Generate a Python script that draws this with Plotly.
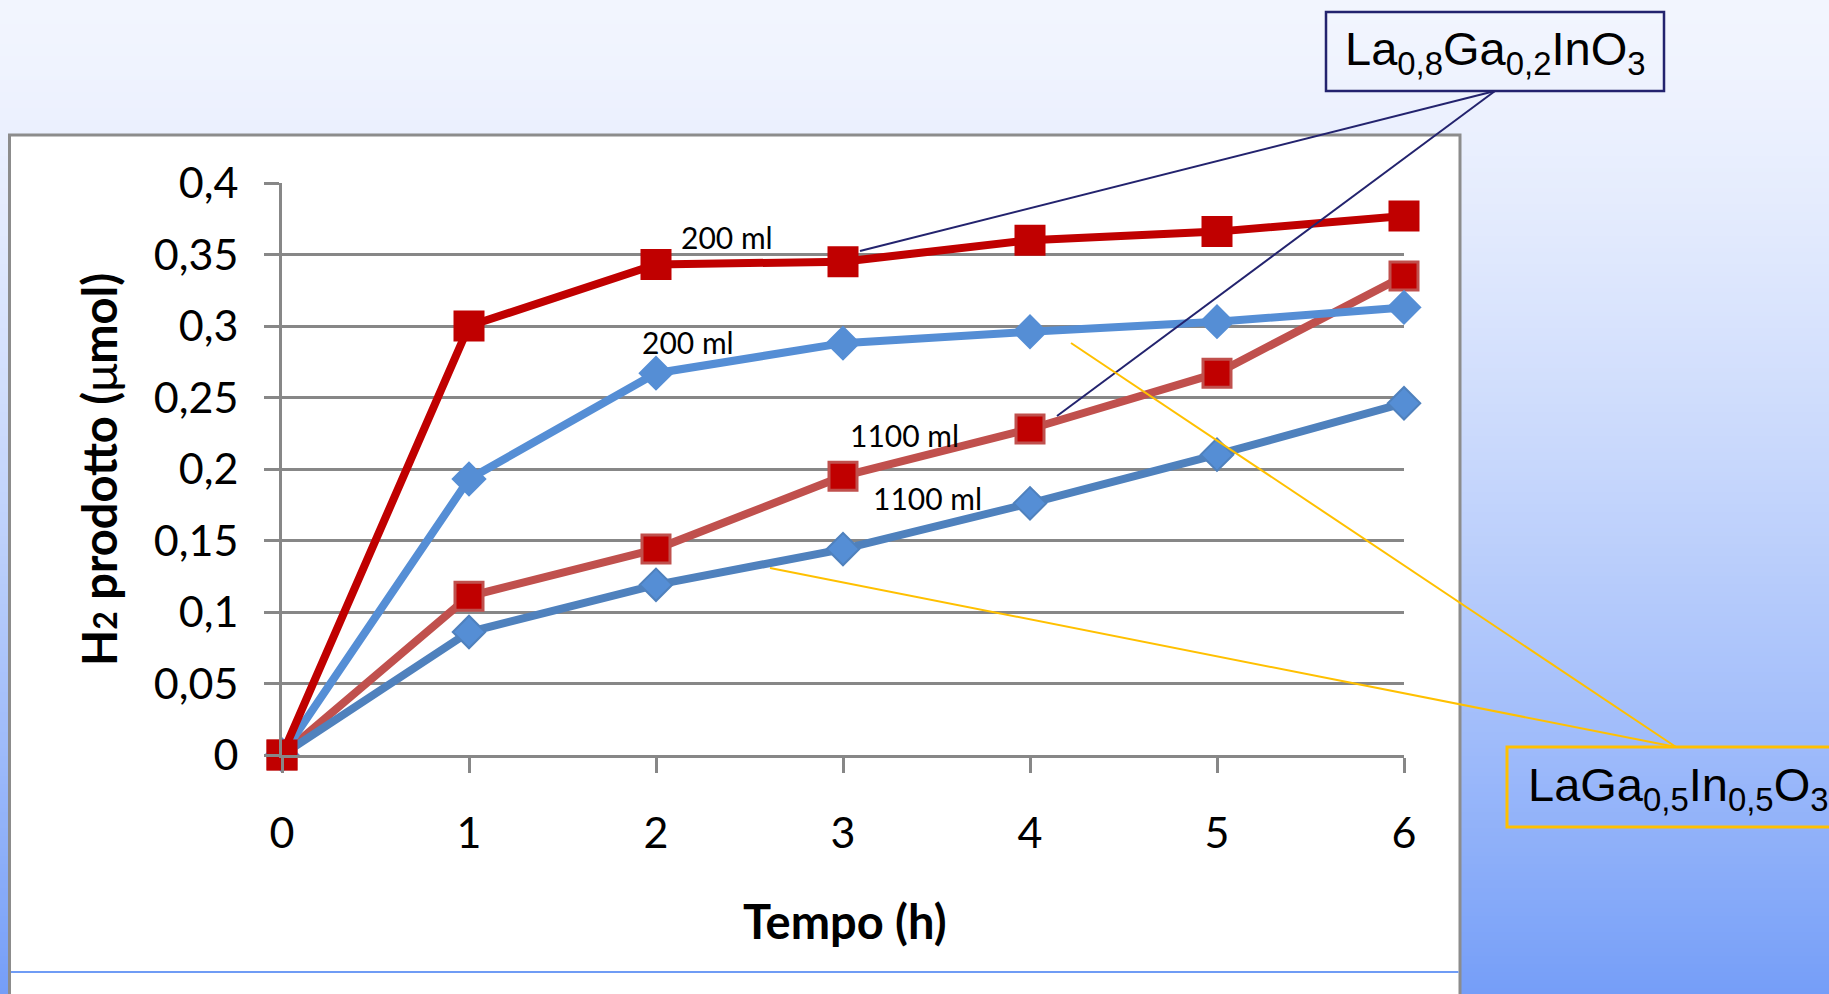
import plotly.graph_objects as go

# ---------------- data ----------------
tempo_h = [0, 1, 2, 3, 4, 5, 6]
la08_200ml = [0, 0.300, 0.343, 0.345, 0.360, 0.366, 0.377]
la08_1100ml = [0, 0.111, 0.144, 0.195, 0.228, 0.267, 0.335]
laga05_200ml = [0, 0.193, 0.267, 0.288, 0.296, 0.303, 0.313]
laga05_1100ml = [0, 0.086, 0.119, 0.144, 0.176, 0.210, 0.246]

y_tickvals = [0, 0.05, 0.1, 0.15, 0.2, 0.25, 0.3, 0.35, 0.4]
y_ticktext = ["0", "0,05", "0,1", "0,15", "0,2", "0,25", "0,3", "0,35", "0,4"]
x_tickvals = [0, 1, 2, 3, 4, 5, 6]
x_ticktext = ["0", "1", "2", "3", "4", "5", "6"]

series_labels = ["200 ml", "200 ml", "1100 ml", "1100 ml"]
label_x = [2.38, 2.17, 3.33, 3.45]
label_y = [0.362, 0.289, 0.224, 0.180]

W, H = 1829, 994


def px(x):
    return x / W


def py(y):
    return 1 - y / H


fig = go.Figure()

fig.add_trace(go.Scatter(
    x=tempo_h, y=la08_1100ml, mode="lines+markers", name="La0,8Ga0,2InO3 1100 ml",
    line=dict(color="#C0504D", width=8),
    marker=dict(symbol="square", size=28, color="#C00000",
                line=dict(color="#C0504D", width=3)),
    cliponaxis=False))
fig.add_trace(go.Scatter(
    x=tempo_h, y=laga05_1100ml, mode="lines+markers", name="LaGa0,5In0,5O3 1100 ml",
    line=dict(color="#4F81BD", width=8),
    marker=dict(symbol="diamond", size=25, color="#558ED5",
                line=dict(color="#4F81BD", width=2)),
    cliponaxis=False))
fig.add_trace(go.Scatter(
    x=tempo_h, y=laga05_200ml, mode="lines+markers", name="LaGa0,5In0,5O3 200 ml",
    line=dict(color="#558ED5", width=8),
    marker=dict(symbol="diamond", size=25, color="#558ED5",
                line=dict(color="#558ED5", width=2)),
    cliponaxis=False))
fig.add_trace(go.Scatter(
    x=tempo_h, y=la08_200ml, mode="lines+markers", name="La0,8Ga0,2InO3 200 ml",
    line=dict(color="#C00000", width=8),
    marker=dict(symbol="square", size=29, color="#C00000",
                line=dict(color="#C00000", width=2)),
    cliponaxis=False))

# ---------------- background gradient + white frame ----------------
shapes = []
top = (242, 245, 254)
bot = (117, 158, 248)
step = 4
for y0 in range(0, H, step):
    t = ((y0 + step / 2) / H) ** 1.4
    c = tuple(round(top[i] + (bot[i] - top[i]) * t) for i in range(3))
    shapes.append(dict(type="rect", xref="paper", yref="paper",
                       x0=0, x1=1, y0=py(y0 + step + 0.5), y1=py(y0),
                       fillcolor="rgb(%d,%d,%d)" % c, line=dict(width=0),
                       layer="below"))
shapes.append(dict(type="rect", xref="paper", yref="paper",
                   x0=px(9.5), x1=px(1460), y0=py(1010), y1=py(135),
                   fillcolor="white", line=dict(color="#8C8C8C", width=3),
                   layer="below"))
shapes.append(dict(type="line", xref="paper", yref="paper",
                   x0=px(11), x1=px(1458.5), y0=py(972), y1=py(972),
                   line=dict(color="#6F9CF5", width=2), layer="below"))

# callout boxes and leader lines
navy = "#23236E"
gold = "#FFC000"
shapes.append(dict(type="rect", xref="paper", yref="paper",
                   x0=px(1326), x1=px(1664), y0=py(91), y1=py(12),
                   line=dict(color=navy, width=2.5), fillcolor="rgba(0,0,0,0)"))
shapes.append(dict(type="line", xref="paper", yref="paper",
                   x0=px(1495), y0=py(91), x1=px(860), y1=py(251),
                   line=dict(color=navy, width=2)))
shapes.append(dict(type="line", xref="paper", yref="paper",
                   x0=px(1495), y0=py(91), x1=px(1057), y1=py(416),
                   line=dict(color=navy, width=2)))
shapes.append(dict(type="rect", xref="paper", yref="paper",
                   x0=px(1507), x1=px(1845), y0=py(827), y1=py(747),
                   line=dict(color=gold, width=3), fillcolor="rgba(0,0,0,0)"))
shapes.append(dict(type="line", xref="paper", yref="paper",
                   x0=px(1676), y0=py(747), x1=px(770), y1=py(568),
                   line=dict(color=gold, width=2)))
shapes.append(dict(type="line", xref="paper", yref="paper",
                   x0=px(1676), y0=py(747), x1=px(1071), y1=py(343),
                   line=dict(color=gold, width=2)))

annotations = []
for t, x, y in zip(series_labels, label_x, label_y):
    annotations.append(dict(text=t, x=x, y=y, xref="x", yref="y",
                            showarrow=False, font=dict(family="Lato", size=30, color="black")))

annotations.append(dict(
    text="La<sub>0,8</sub>Ga<sub>0,2</sub>InO<sub>3</sub>",
    x=px(1495), y=py(52), xref="paper", yref="paper", xanchor="center", yanchor="middle",
    showarrow=False, font=dict(family="Liberation Sans, Arial", size=47, color="black")))
annotations.append(dict(
    text="LaGa<sub>0,5</sub>In<sub>0,5</sub>O<sub>3</sub>",
    x=px(1526), y=py(788), xref="paper", yref="paper", xanchor="left", yanchor="middle",
    showarrow=False, font=dict(family="Liberation Sans, Arial", size=47, color="black")))

annotations.append(dict(
    text="<b>Tempo (h)</b>", x=px(845), y=py(921), xref="paper", yref="paper",
    xanchor="center", yanchor="middle", showarrow=False,
    font=dict(family="Lato", size=47, color="black")))
annotations.append(dict(
    text="<b>H<span style='font-size:32px'>2</span> prodotto (</b>μ<b>mol)</b>",
    x=px(99), y=py(470), xref="paper", yref="paper", textangle=-90,
    xanchor="center", yanchor="middle", showarrow=False,
    font=dict(family="Lato", size=47, color="black")))

fig.update_layout(
    width=W, height=H, autosize=False,
    margin=dict(l=0, r=0, t=0, b=0, pad=0, autoexpand=False),
    paper_bgcolor="rgb(242,245,254)",
    plot_bgcolor="rgba(0,0,0,0)",
    showlegend=False,
    shapes=shapes,
    annotations=annotations,
    xaxis=dict(domain=[px(282), px(1404)], range=[0, 6], showgrid=False,
               zeroline=False, showline=True, linecolor="#878787", linewidth=3,
               ticks="outside", ticklen=15, tickwidth=3, tickcolor="#878787",
               tickvals=x_tickvals, ticktext=x_ticktext, ticklabelstandoff=23,
               automargin=False,
               tickfont=dict(family="Lato", size=43, color="black")),
    yaxis=dict(domain=[py(755), py(183)], range=[0, 0.4], showgrid=True,
               gridcolor="#878787", gridwidth=3, zeroline=False,
               showline=True, linecolor="#878787", linewidth=3,
               ticks="outside", ticklen=15, tickwidth=3, tickcolor="#878787",
               tickvals=y_tickvals, ticktext=y_ticktext, ticklabelstandoff=17,
               automargin=False,
               tickfont=dict(family="Lato", size=43, color="black")),
)

fig.write_html("out.html")
